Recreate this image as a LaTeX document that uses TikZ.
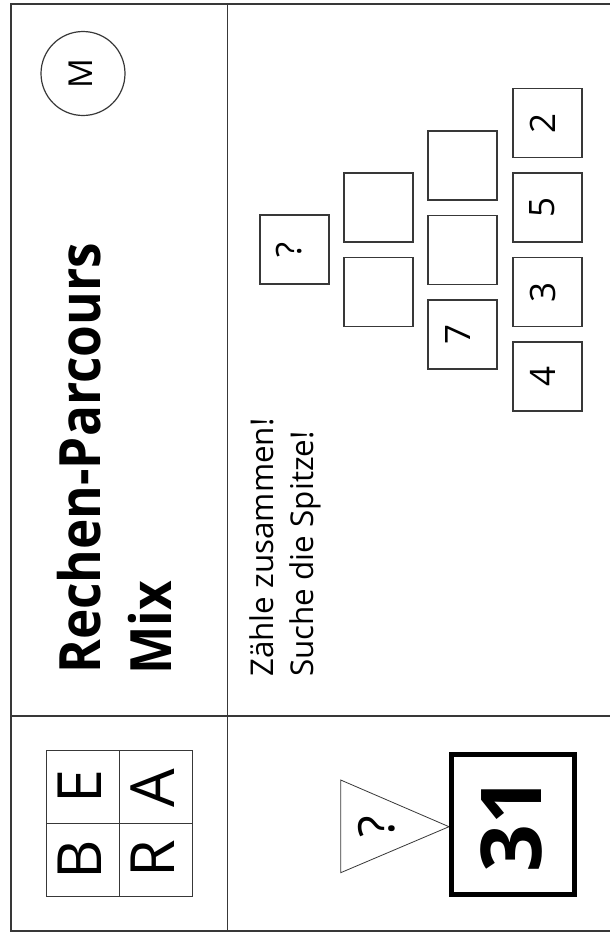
\documentclass[tikz,border=0pt]{standalone}
\usepackage{fontspec}
\setmainfont{Open Sans}
\newfontfamily\titlefont[FakeStretch=0.9]{Open Sans}
\begin{document}
\begin{tikzpicture}[x=1pt,y=-1pt,
  frameline/.style={draw=black!78, line width=1.2pt},
  cell/.style={draw=black!78, line width=1.1pt, minimum width=69pt, minimum height=69pt, inner sep=0pt},
  num/.style={rotate=90, inner sep=0pt, font=\fontsize{35}{35}\selectfont},
  letter/.style={rotate=90, inner sep=0pt, font=\fontsize{61}{61}\selectfont},
  rottext/.style={rotate=90, inner sep=0pt, anchor=base west},
]
\useasboundingbox (0,0) rectangle (610,932);
\fill[white] (0,0) rectangle (610,932);

% frame
\coordinate (tl) at (11,4);
\coordinate (tr) at (610,4);
\coordinate (bl) at (11,931);
\coordinate (br) at (610,931);
\coordinate (vt) at (227.5,4);
\coordinate (vb) at (227.5,931);
\coordinate (hl) at (11,716);
\coordinate (hr) at (610,716);
\draw[frameline] (tr) -- (tl) -- (bl) -- (br);
\draw[frameline] (vt) -- (vb);
\draw[frameline] (hl) -- (hr);

% circle M
\node[draw=black!78, line width=1.2pt, circle, minimum size=84pt, inner sep=0pt] (circ) at (83,73.5) {};
\node[rotate=90, inner sep=0pt, font=\fontsize{33}{33}\selectfont] (m) at ([xshift=-2pt]circ.center) {M};

% title
\node[rottext, font=\titlefont\bfseries\fontsize{57}{57}\selectfont] (t1) at (100,674) {Rechen-Parcours};
\node[rottext, font=\titlefont\bfseries\fontsize{57}{57}\selectfont] (t2) at (171,675) {Mix};

% instructions
\node[rottext, font=\fontsize{31.4}{31.4}\selectfont] (i1) at (273,677) {Zähle zusammen!};
\node[rottext, font=\fontsize{31.4}{31.4}\selectfont] (i2) at (313,677) {Suche die Spitze!};

% pyramid
\node[cell] (a1) at (547.5,123) {};
\node[cell] (a2) at (547.5,207.5) {};
\node[cell] (a3) at (547.5,292) {};
\node[cell] (a4) at (547.5,376.5) {};
\node[cell] (b1) at (462.5,165.5) {};
\node[cell] (b2) at (462.5,250) {};
\node[cell] (b3) at (462.5,334.5) {};
\node[cell] (c1) at (378.5,207.5) {};
\node[cell] (c2) at (378.5,292) {};
\node[cell] (d1) at (294.5,249.5) {};
\node[num] (n2) at ([xshift=-5pt]a1.center) {2};
\node[num] (n5) at ([xshift=-5pt]a2.center) {5};
\node[num] (n3) at ([xshift=-5pt]a3.center) {3};
\node[num] (n4) at ([xshift=-5pt]a4.center) {4};
\node[num] (n7) at ([xshift=-4pt]b3.center) {7};
\node[num] (nq) at ([xshift=-5pt]d1.center) {?};

% BERA
\node[draw=black!78, line width=1.1pt, minimum width=145.6pt, minimum height=146pt, inner sep=0pt] (bera) at (119.5,823.7) {};
\coordinate (bvt) at (119.5,750.7);
\coordinate (bvb) at (119.5,896.7);
\coordinate (bhl) at (46.7,823.7);
\coordinate (bhr) at (192.3,823.7);
\draw[draw=black!78, line width=1.1pt] (bvt) -- (bvb);
\draw[draw=black!78, line width=1.1pt] (bhl) -- (bhr);
\node[letter] (lB) at (80,859.5) {B};
\node[letter] (lE) at (80,786.7) {E};
\node[letter] (lR) at (153,859) {R};
\node[letter] (lA) at (153,788) {A};

% triangle and 31
\coordinate (ta) at (340.7,780);
\coordinate (tb) at (340.7,872.7);
\coordinate (tc) at (449,826.7);
\draw[draw=black!78, line width=0.8pt, line join=miter] (ta) -- (tb) -- (tc) -- cycle;
\node[rotate=90, inner sep=0pt, font=\fontsize{50}{50}\selectfont] (tq) at (377,826.5) {?};
\node[draw=black, line width=5pt, minimum width=123.3pt, minimum height=140pt, inner sep=0pt] (res) at (513.15,824.2) {};
\node[rotate=90, inner sep=0pt, font=\bfseries\fontsize{84}{84}\selectfont] (r31) at ([xshift=-2pt]res.center) {31};
\end{tikzpicture}
\end{document}
